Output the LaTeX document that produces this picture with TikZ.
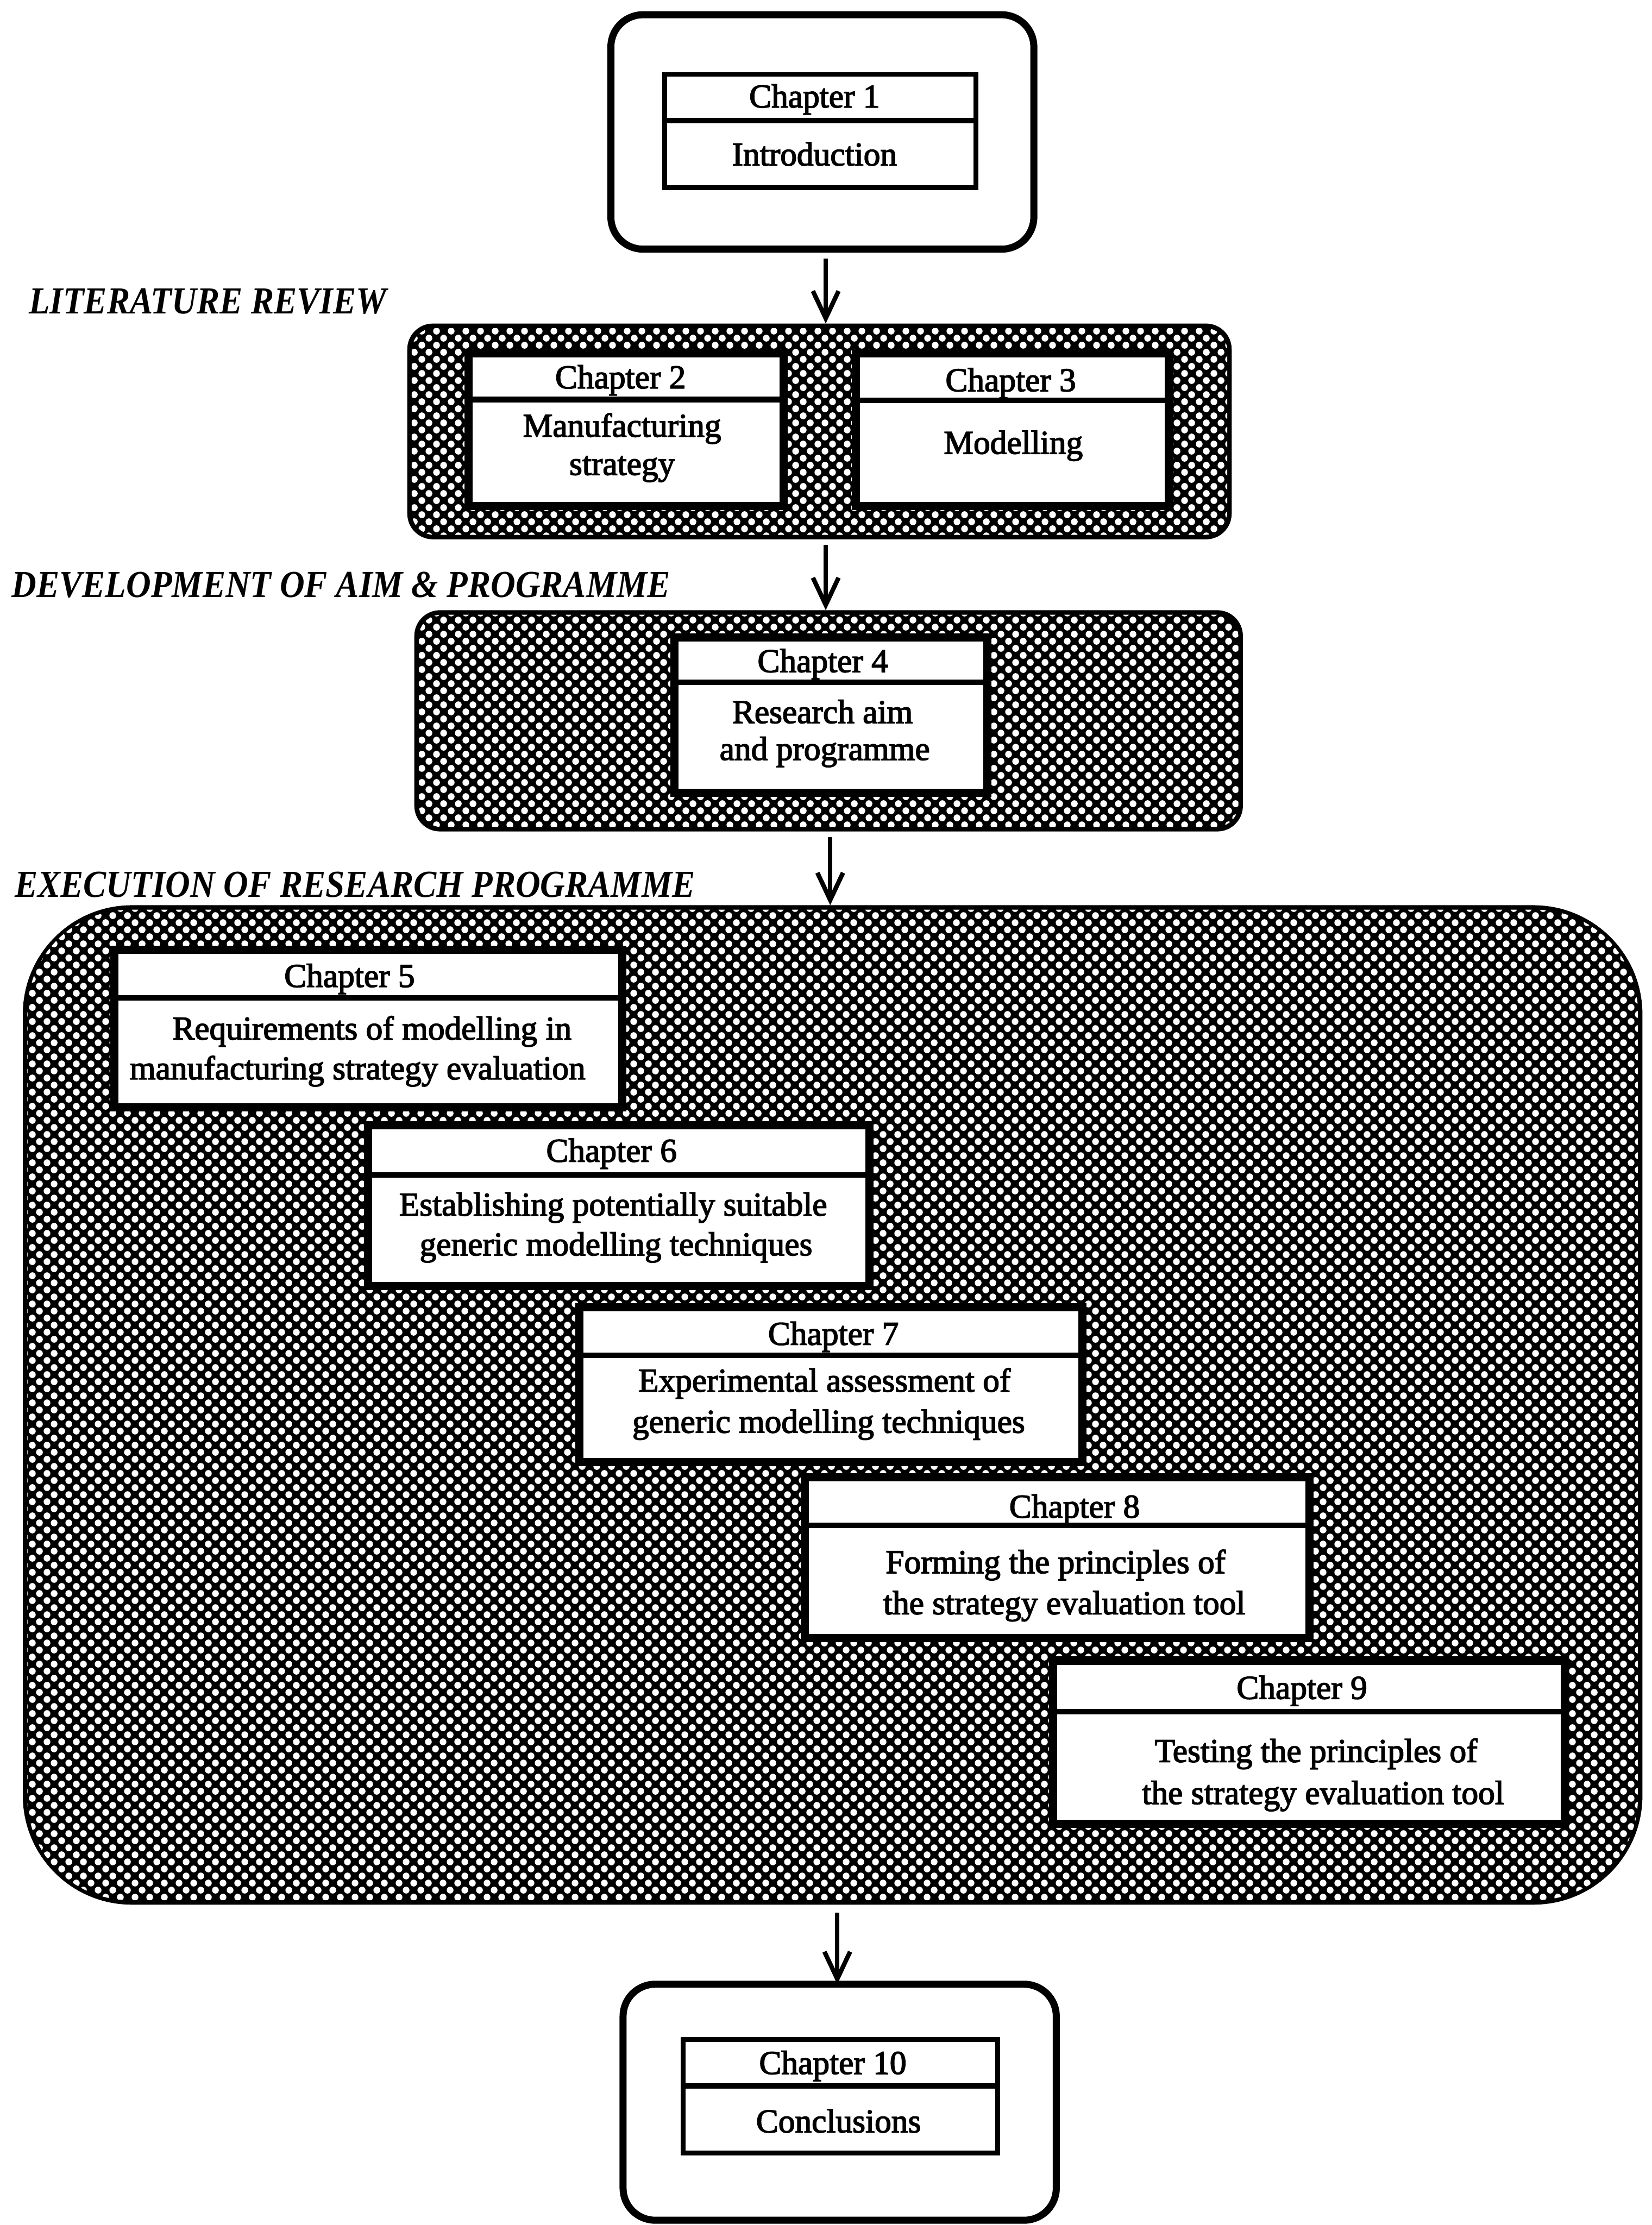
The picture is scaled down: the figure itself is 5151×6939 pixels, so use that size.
\documentclass[tikz,border=0pt]{standalone}
\usepackage{fontspec}
\setmainfont{Liberation Serif}
\newfontfamily\chapfont{Liberation Serif}[FakeBold=2.6]
\newfontfamily\headfont{Liberation Serif}[FakeStretch=0.9]
\usetikzlibrary{patterns,arrows.meta}

% white dots on a staggered lattice, used over a black fill
\pgfdeclarepatternformonly{dotlattice}{\pgfqpoint{0pt}{0pt}}{\pgfqpoint{4.5pt}{4.4pt}}{\pgfqpoint{4.5pt}{4.4pt}}{%
  \pgfpathcircle{\pgfqpoint{1.125pt}{1.1pt}}{1.07pt}%
  \pgfpathcircle{\pgfqpoint{3.375pt}{3.3pt}}{1.07pt}%
  \pgfusepath{fill}}

\begin{document}
\begin{tikzpicture}[x=0.1pt,y=-0.1pt,
  outerbox/.style={draw,line width=2.2pt,fill=white,rounded corners=10pt,inner sep=0pt,outer sep=0pt},
  shadebox/.style={fill=black,inner sep=0pt,outer sep=0pt},
  dots/.style={pattern=dotlattice,pattern color=white},
  band/.style={draw,line width=3.6pt},
  chapbox/.style={draw,line width=1.5pt,fill=white},
  divider/.style={line width=1.7pt},
  chaptxt/.style={anchor=base,inner sep=0pt,font=\chapfont\fontsize{10.4}{11.3}\selectfont},
  headtxt/.style={anchor=base west,inner sep=0pt,font=\headfont\bfseries\itshape\fontsize{11.9}{13}\selectfont},
  arr/.style={line width=1.4pt,-{Straight Barb[length=8.5pt,width=8pt]}}]

\useasboundingbox (0,0) rectangle (5151,6939);

% ---------- stage boxes ----------
\node[outerbox,minimum width=131.9pt,minimum height=73.1pt] (b1) at (2564.5,411.5) {};
\node[shadebox,rounded corners=8pt,minimum width=257.1pt,minimum height=67.3pt] (b2) at (2555.5,1345.5) {};
\node[shadebox,rounded corners=8pt,minimum width=258.4pt,minimum height=69.0pt] (b3) at (2584,2248) {};
\node[shadebox,rounded corners=34pt,minimum width=505.1pt,minimum height=311.7pt] (b4) at (2596.5,4381.5) {};
\node[outerbox,minimum width=135.1pt,minimum height=73.6pt] (b5) at (2618.5,6556) {};

\fill[dots,rounded corners=7pt] ([shift={(14,-14)}]b2.south west) rectangle ([shift={(-14,14)}]b2.north east);
\fill[dots,rounded corners=7pt] ([shift={(14,-14)}]b3.south west) rectangle ([shift={(-14,14)}]b3.north east);
\fill[dots,rounded corners=32pt] ([shift={(14,-14)}]b4.south west) rectangle ([shift={(-14,14)}]b4.north east);

% ---------- phase headings ----------
\node[headtxt] (h1) at (88,978) {LITERATURE REVIEW};
\node[headtxt] (h2) at (35,1863) {DEVELOPMENT OF AIM \& PROGRAMME};
\node[headtxt] (h3) at (44,2797) {EXECUTION OF RESEARCH PROGRAMME};

% ---------- chapter boxes ----------
% Chapter 1
\draw[chapbox] (2072,232) rectangle (3044,586);
\draw[divider] (2072,376) -- (3044,376);
\node[chaptxt] (t1a) at (2540,335) {Chapter 1};
\node[chaptxt] (t1b) at (2540,516) {Introduction};

% Chapter 2
\draw[band] (1467,1108) rectangle (2438,1573);
\draw[chapbox] (1467,1108) rectangle (2438,1573);
\draw[divider] (1467,1246) -- (2438,1246);
\node[chaptxt] (t2a) at (1935,1211) {Chapter 2};
\node[chaptxt] (t2b) at (1940,1362) {Manufacturing};
\node[chaptxt] (t2c) at (1940,1481) {strategy};

% Chapter 3
\draw[band] (2675,1108) rectangle (3640,1573);
\draw[chapbox] (2675,1108) rectangle (3640,1573);
\draw[divider] (2675,1248) -- (3640,1248);
\node[chaptxt] (t3a) at (3152,1220) {Chapter 3};
\node[chaptxt] (t3b) at (3160,1415) {Modelling};

% Chapter 4
\draw[band] (2108,1993) rectangle (3073,2467);
\draw[chapbox] (2108,1993) rectangle (3073,2467);
\draw[divider] (2108,2128) -- (3073,2128);
\node[chaptxt] (t4a) at (2566,2096) {Chapter 4};
\node[chaptxt] (t4b) at (2565,2255) {Research aim};
\node[chaptxt] (t4c) at (2572,2370) {and programme};

% Chapter 5
\draw[band] (362,2967) rectangle (1936,3448);
\draw[chapbox] (362,2967) rectangle (1936,3448);
\draw[divider] (362,3112) -- (1936,3112);
\node[chaptxt] (t5a) at (1090,3078) {Chapter 5};
\node[chaptxt] (t5b) at (1160,3242) {Requirements of modelling in};
\node[chaptxt] (t5c) at (1115,3366) {manufacturing strategy evaluation};

% Chapter 6
\draw[band] (1153,3515) rectangle (2706,4006);
\draw[chapbox] (1153,3515) rectangle (2706,4006);
\draw[divider] (1153,3664) -- (2706,3664);
\node[chaptxt] (t6a) at (1907,3623) {Chapter 6};
\node[chaptxt] (t6b) at (1912,3791) {Establishing potentially suitable};
\node[chaptxt] (t6c) at (1921,3915) {generic modelling techniques};

% Chapter 7
\draw[band] (1812,4082) rectangle (3370,4555);
\draw[chapbox] (1812,4082) rectangle (3370,4555);
\draw[divider] (1812,4226) -- (3370,4226);
\node[chaptxt] (t7a) at (2599,4194) {Chapter 7};
\node[chaptxt] (t7b) at (2571,4340) {Experimental assessment of};
\node[chaptxt] (t7c) at (2584,4468) {generic modelling techniques};

% Chapter 8
\draw[band] (2515,4613) rectangle (4078,5103);
\draw[chapbox] (2515,4613) rectangle (4078,5103);
\draw[divider] (2515,4757) -- (4078,4757);
\node[chaptxt] (t8a) at (3351,4733) {Chapter 8};
\node[chaptxt] (t8b) at (3292,4906) {Forming the principles of};
\node[chaptxt] (t8c) at (3319,5034) {the strategy evaluation tool};

% Chapter 9
\draw[band] (3290,5184) rectangle (4875,5682);
\draw[chapbox] (3290,5184) rectangle (4875,5682);
\draw[divider] (3290,5338) -- (4875,5338);
\node[chaptxt] (t9a) at (4060,5298) {Chapter 9};
\node[chaptxt] (t9b) at (4104,5495) {Testing the principles of};
\node[chaptxt] (t9c) at (4126,5626) {the strategy evaluation tool};

% Chapter 10
\draw[chapbox] (2130,6361) rectangle (3111,6715);
\draw[divider] (2130,6505) -- (3111,6505);
\node[chaptxt] (t10a) at (2597,6468) {Chapter 10};
\node[chaptxt] (t10b) at (2615,6650) {Conclusions};

% ---------- flow arrows ----------
\coordinate (ax1) at (2575,0);
\coordinate (ax2) at (2575,0);
\coordinate (ax3) at (2589,0);
\coordinate (ax4) at (2611,0);
\draw[arr,shorten <=3pt] (b1.south -| ax1) -- (b2.north -| ax1);
\draw[arr,shorten <=1.8pt] (b2.south -| ax2) -- (b3.north -| ax2);
\draw[arr,shorten <=1.8pt] (b3.south -| ax3) -- (b4.north -| ax3);
\draw[arr,shorten <=2.5pt] (b4.south -| ax4) -- (b5.north -| ax4);
\end{tikzpicture}
\end{document}
